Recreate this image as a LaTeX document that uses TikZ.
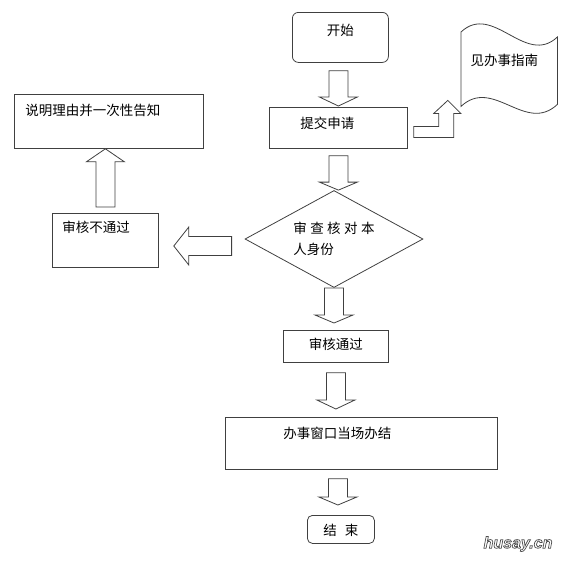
\documentclass[tikz,border=0pt]{standalone}
\usepackage{fontspec}
\setmainfont{Liberation Sans}
\newfontfamily\cjk{Noto Sans CJK SC}
\usetikzlibrary{calc,shapes.geometric}

\tikzset{
  every node/.style={font=\cjk\fontsize{13.5}{21}\selectfont},
  box/.style={draw=black!75, line width=0.8pt, inner ysep=0pt, anchor=north west, align=left},
  hollow/.style={draw=black!75, line width=0.8pt, fill=white, line join=miter},
}

% hollow block arrow: [head length]{start}{tip}
\newcommand{\blockarrow}[3][10pt]{%
  \coordinate (ba-s) at (#2);
  \coordinate (ba-t) at (#3);
  \coordinate (ba-b) at ($(ba-t)!#1!(ba-s)$);
  \draw[hollow] ($(ba-s)!9.5pt!90:(ba-t)$) -- ($(ba-b)!9.5pt!-90:(ba-s)$)
    -- ($(ba-b)!19pt!-90:(ba-s)$) -- (ba-t) -- ($(ba-b)!19pt!90:(ba-s)$)
    -- ($(ba-b)!9.5pt!90:(ba-s)$) -- ($(ba-s)!9.5pt!-90:(ba-t)$) -- cycle;}

\begin{document}
\begin{tikzpicture}[x=1pt,y=-1pt]
	\useasboundingbox (0,0) rectangle (572,560);
	% boxes
	\node[box, rounded corners=6pt, align=center, inner xsep=0pt, text width=96pt, text height=23.1pt, text depth=26.9pt] (start) at (292,12) {开始};
	\node[box, inner xsep=31pt, text width=76pt, text height=21.1pt, text depth=19.9pt] (submit) at (269,107) {提交申请};
	\node[anchor=north west, inner ysep=0pt, inner xsep=9.5pt, text width=77pt, text height=31.1pt, text depth=40.9pt, align=left] (guide) at (461,34) {见办事指南};
	\draw[draw=black!75, line width=0.8pt] ([yshift=2pt]guide.north west) .. controls +(32,-30) and +(-32,30) .. ([yshift=-3pt]guide.north east)
		-- ([yshift=2pt]guide.south east) .. controls +(-32,30) and +(32,-30) .. (guide.south west) -- cycle;
	\node[box, inner xsep=11pt, text width=167pt, text height=21.1pt, text depth=32.9pt] (notify) at (14,94) {说明理由并一次性告知};
	\node[box, inner xsep=10pt, text width=86pt, text height=18.8pt, text depth=35.2pt] (fail) at (52,213) {审核不通过};
	\node[diamond, draw=black!75, line width=0.8pt, aspect=1.835, minimum width=178pt, minimum height=97pt, inner sep=0pt, align=left] (check) at (334,239)
		{审\kern3.4pt 查\kern3.4pt 核\kern3.4pt 对\kern3.4pt 本\\人身份};
	\node[box, align=center, inner xsep=0pt, text width=105pt, text height=19.1pt, text depth=12.9pt] (pass) at (283,330) {审核通过};
	\node[box, inner xsep=58pt, text width=156pt, text height=21pt, text depth=31pt] (window) at (225,417) {办事窗口当场办结};
	\node[box, rounded corners=5pt, align=center, inner xsep=0pt, text width=67pt, text height=20.1pt, text depth=7.9pt] (end) at (307,515) {结\hspace{8pt}束};
	% arrows
	\blockarrow[9pt]{[xshift=-2pt,yshift=-8pt]start.south}{[yshift=1pt]submit.north}
	\blockarrow[8pt]{[yshift=-7pt]submit.south}{submit.south |- check.north}
	\blockarrow[8pt]{check.south}{$(check.south |- pass.north)+(0,-7)$}
	\blockarrow[9pt]{[yshift=-10pt]pass.south}{$(pass.south |- window.north)+(0,-8)$}
	\blockarrow[8pt]{$(end.north |- window.south)+(-3,9)$}{$(end.north)+(-3,-10)$}
	\blockarrow[13pt]{[yshift=6pt]fail.north}{fail.north |- notify.south}
	\blockarrow[15pt]{$(check.west)+(-13,7)$}{$(fail.east |- check.west)+(15,7)$}
	\draw[hollow] ($(submit.east)+(6,-1.5)$) -- ++(25,0) -- ++(0,-13) -- ++(-5,0) -- ++(14,-13)
		-- ++(13,13) -- ++(-7,0) -- ++(0,24) -- ++(-40,0) -- cycle;
	% watermark, outlined letters
	\node[font=\bfseries\itshape\fontsize{16}{16}\selectfont, text=black!70] (mark) at (518,544)
		{\special{pdf:literal direct 1 Tr 0.7 w}husay.cn\special{pdf:literal direct 0 Tr}};
\end{tikzpicture}
\end{document}
